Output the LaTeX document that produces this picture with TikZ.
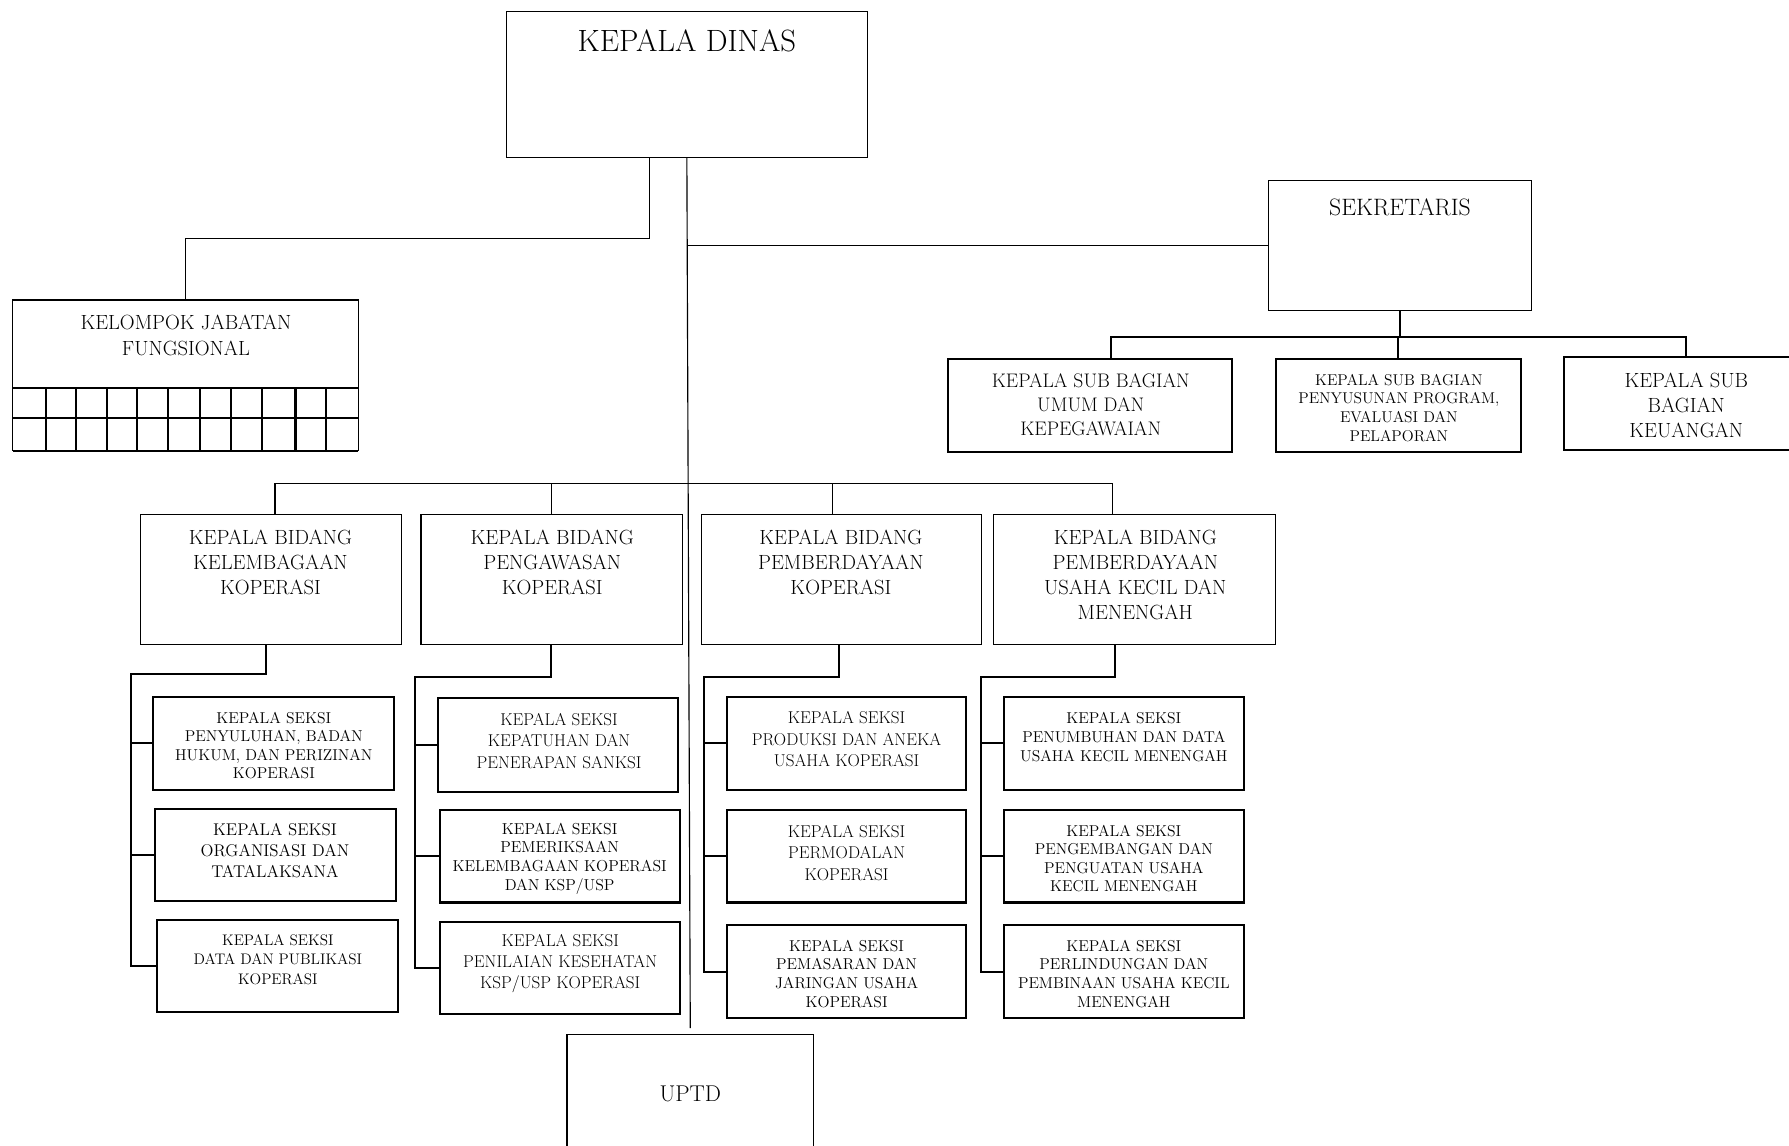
\documentclass[tikz,border=0pt]{standalone}
\usepackage{fontspec}
\usetikzlibrary{calc}
\tikzset{
  box/.style={draw=black, rectangle, inner sep=0pt, outer sep=0pt, anchor=north west},
  bthin/.style={line width=1.1pt},
  bthick/.style={line width=1.8pt},
  cthin/.style={draw=black, line width=1pt},
  cthick/.style={draw=black, line width=1.8pt},
  lbl/.style={align=center, inner sep=0pt, text=black}
}
\newcommand{\mybox}[6]{\node[box,#6,minimum width={#4pt-#2pt},minimum height={#5pt-#3pt}] (#1) at (#2,#3) {};}
\newcommand{\mytext}[6]{\node[lbl,font=\fontsize{#4}{#5}\selectfont] (#1) at (#2,#3) {#6};}
\begin{document}
\begin{tikzpicture}[x=1pt,y=-1pt]
\useasboundingbox (0,0) rectangle (1568,1004);
% ---------- boxes ----------
\mybox{kd}{444}{10}{760}{138}{bthin}
\mybox{sek}{1112}{158}{1342}{272}{bthin}
\mybox{kjf}{11}{263}{314}{395}{bthin}
\mybox{sb1}{831}{315}{1080}{396}{bthick}
\mybox{sb2}{1118}{315}{1333}{396}{bthick}
\mybox{sb3}{1371}{313}{1585}{394}{bthick}
\mybox{b1}{123}{451}{352}{565}{bthin}
\mybox{b2}{369}{451}{598}{565}{bthin}
\mybox{b3}{615}{451}{860}{565}{bthin}
\mybox{b4}{871}{451}{1118}{565}{bthin}
\mybox{s11}{134}{611}{345}{692}{bthick}
\mybox{s12}{136}{709}{347}{790}{bthick}
\mybox{s13}{138}{806}{349}{887}{bthick}
\mybox{s21}{384}{612}{594}{694}{bthick}
\mybox{s22}{386}{710}{596}{791}{bthick}
\mybox{s23}{386}{808}{596}{889}{bthick}
\mybox{s31}{637}{611}{847}{692}{bthick}
\mybox{s32}{637}{710}{847}{791}{bthick}
\mybox{s33}{637}{811}{847}{892}{bthick}
\mybox{s41}{880}{611}{1090}{692}{bthick}
\mybox{s42}{880}{710}{1090}{791}{bthick}
\mybox{s43}{880}{811}{1090}{892}{bthick}
\mybox{uptd}{497}{907}{713}{1012}{bthin}
% ---------- KJF grid ----------
\draw[cthick] (11,340) -- (314,340);
\draw[cthick] (11,366) -- (314,366);
\draw[cthick] (11,395) -- (314,395);
\foreach \gx in {40,67,94,120,147.5,175,202.5,230,259,286}
  \draw[cthick] (\gx,340) -- (\gx,395);
% ---------- texts ----------
\mytext{tkd}{602}{36}{27}{30}{KEPALA DINAS}
\mytext{tsek}{1227}{182}{20.8}{24}{SEKRETARIS}
\mytext{tkjf}{163}{294}{18}{22}{KELOMPOK JABATAN\\FUNGSIONAL}
\mytext{tsb1}{956}{355}{17.2}{21}{KEPALA SUB BAGIAN\\UMUM DAN\\KEPEGAWAIAN}
\mytext{tsb2}{1226}{357.5}{13.7}{16.5}{KEPALA SUB BAGIAN\\PENYUSUNAN PROGRAM,\\EVALUASI DAN\\PELAPORAN}
\mytext{tsb3}{1478}{355.5}{18}{22}{KEPALA SUB\\BAGIAN\\KEUANGAN}
\mytext{tb1}{237}{493}{18}{22}{KEPALA BIDANG\\KELEMBAGAAN\\KOPERASI}
\mytext{tb2}{484}{493}{18}{22}{KEPALA BIDANG\\PENGAWASAN\\KOPERASI}
\mytext{tb3}{737}{493}{18}{22}{KEPALA BIDANG\\PEMBERDAYAAN\\KOPERASI}
\mytext{tb4}{995}{504}{18}{22}{KEPALA BIDANG\\PEMBERDAYAAN\\USAHA KECIL DAN\\MENENGAH}
\mytext{ts11}{240}{653.5}{13.8}{16.3}{KEPALA SEKSI\\PENYULUHAN, BADAN\\HUKUM, DAN PERIZINAN\\KOPERASI}
\mytext{ts12}{241}{745.5}{14.9}{18.5}{KEPALA SEKSI\\ORGANISASI DAN\\TATALAKSANA}
\mytext{ts13}{243.5}{841}{13.4}{17}{KEPALA SEKSI\\DATA DAN PUBLIKASI\\KOPERASI}
\mytext{ts21}{490}{649.5}{15}{18.5}{KEPALA SEKSI\\KEPATUHAN DAN\\PENERAPAN SANKSI}
\mytext{ts22}{490.5}{752.5}{13.9}{16.3}{KEPALA SEKSI\\PEMERIKSAAN\\KELEMBAGAAN KOPERASI\\DAN KSP/USP}
\mytext{ts23}{491}{844.5}{15}{18.5}{KEPALA SEKSI\\PENILAIAN KESEHATAN\\KSP/USP KOPERASI}
\mytext{ts31}{742}{648}{15}{19}{KEPALA SEKSI\\PRODUKSI DAN ANEKA\\USAHA KOPERASI}
\mytext{ts32}{742}{747.5}{15}{19}{KEPALA SEKSI\\PERMODALAN\\KOPERASI}
\mytext{ts33}{742}{853.5}{13.8}{16.3}{KEPALA SEKSI\\PEMASARAN DAN\\JARINGAN USAHA\\KOPERASI}
\mytext{ts41}{985}{646}{13.8}{17}{KEPALA SEKSI\\PENUMBUHAN DAN DATA\\USAHA KECIL MENENGAH}
\mytext{ts42}{985}{752.5}{13.8}{16.3}{KEPALA SEKSI\\PENGEMBANGAN DAN\\PENGUATAN USAHA\\KECIL MENENGAH}
\mytext{ts43}{985}{853.5}{13.8}{16.3}{KEPALA SEKSI\\PERLINDUNGAN DAN\\PEMBINAAN USAHA KECIL\\MENENGAH}
\mytext{tuptd}{605}{959}{20}{24}{UPTD}
% ---------- bus coordinates ----------
\coordinate (busK) at (0,209);
\coordinate (busS) at (0,295);
\coordinate (busB) at (0,424);
\coordinate (v1) at (115,591);
\coordinate (v2) at (364,593);
\coordinate (v3) at (617,593);
\coordinate (v4) at (860,593);
% ---------- top connectors ----------
\draw[cthin] ($(kd.south west)+(125,0)$) |- (busK -| kjf.north) -- (kjf.north);
\draw[cthin] (kd.south) -- ($(uptd.north)+(0,-6)$);
\draw[cthin] (kd.south |- sek.west) -- (sek.west);
% ---------- sekretariat ----------
\draw[cthick] (sek.south) -- (sek.south |- busS);
\draw[cthick] ($(sb1.north)+(18.5,0)$) |- (busS -| sb3.north) -- (sb3.north);
\draw[cthick] (sb2.north) -- (sb2.north |- busS);
% ---------- bidang bus ----------
\draw[cthin] ($(b1.north)+(3.5,0)$) |- ($(busB -| b4.north)+(-19.5,0)$) -- ($(b4.north)+(-19.5,0)$);
\draw[cthin] (b2.north) -- (b2.north |- busB);
\draw[cthin] ($(b3.north)+(-7.5,0)$) -- ($(b3.north |- busB)+(-7.5,0)$);
% ---------- seksi connectors ----------
\draw[cthick] ($(b1.south)+(-4.5,0)$) |- (v1) -- (v1 |- s13.west) -- (s13.west);
\draw[cthick] (v1 |- s11.west) -- (s11.west);
\draw[cthick] (v1 |- s12.west) -- (s12.west);
\draw[cthick] ($(b2.south)+(-0.5,0)$) |- (v2) -- (v2 |- s23.west) -- (s23.west);
\draw[cthick] (v2 |- s21.west) -- (s21.west);
\draw[cthick] (v2 |- s22.west) -- (s22.west);
\draw[cthick] ($(b3.south)+(-2.5,0)$) |- (v3) -- (v3 |- s33.west) -- (s33.west);
\draw[cthick] (v3 |- s31.west) -- (s31.west);
\draw[cthick] (v3 |- s32.west) -- (s32.west);
\draw[cthick] ($(b4.south)+(-17.5,0)$) |- (v4) -- (v4 |- s43.west) -- (s43.west);
\draw[cthick] (v4 |- s41.west) -- (s41.west);
\draw[cthick] (v4 |- s42.west) -- (s42.west);
\end{tikzpicture}
\end{document}
